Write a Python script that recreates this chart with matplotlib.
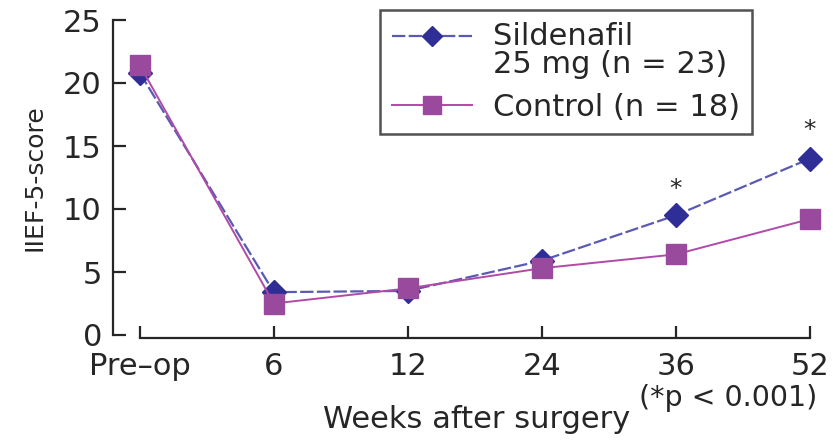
import matplotlib
matplotlib.use("Agg")
import matplotlib.pyplot as plt
import numpy as np

plt.rcParams['font.family'] = ['DejaVu Sans']

categories = ["Pre\u2013op", "6", "12", "24", "36", "52"]
sildenafil = [20.8, 3.4, 3.5, 5.9, 9.5, 14.0]
control = [21.4, 2.5, 3.7, 5.3, 6.4, 9.2]
star_idx = [4, 5]
star_y = [11.6, 16.3]
yticks = [0, 5, 10, 15, 20, 25]

W, H = 833, 441
fig = plt.figure(figsize=(W/100, H/100), dpi=100)
ax = fig.add_axes([113/W, 1-335/H, 717/W, 315/H])

x = np.arange(len(categories))
blue = '#2e2e96'
blue_line = '#5a5ab4'
mag = '#9a4a9c'
mag_line = '#b04aa8'
txt = '#262626'

l1, = ax.plot(x, sildenafil, color=blue_line, lw=1.6, ls=(0, (6, 1.5)),
              marker='D', ms=12, mfc=blue, mec=blue, clip_on=False, zorder=3)
l2, = ax.plot(x, control, color=mag_line, lw=1.4, ls='-',
              marker='s', ms=15, mfc=mag, mec=mag, clip_on=False, zorder=4)

for i, yv in zip(star_idx, star_y):
    ax.text(x[i], yv, '*', ha='center', va='center', fontsize=18, color=txt)

ax.set_xlim(-0.2, 5.15)
ax.set_ylim(0, 25)
ax.set_xticks(x)
ax.set_xticklabels(categories)
ax.set_yticks(yticks)
for s in ['top', 'right']:
    ax.spines[s].set_visible(False)
ax.spines['left'].set_bounds(0, 25)
ax.spines['bottom'].set_bounds(0, 5)
ax.spines['bottom'].set_position(('outward', 2))
for s in ['left', 'bottom']:
    ax.spines[s].set_linewidth(1.6)
    ax.spines[s].set_color(txt)
ax.tick_params(direction='in', length=9, width=1.6, color=txt,
               labelsize=22, labelcolor=txt)
ax.tick_params(axis='y', pad=8)
ax.tick_params(axis='x', pad=10)

ax.set_ylabel('IIEF-5-score', fontsize=18, color=txt, labelpad=12,
              family=['Liberation Sans Narrow', 'DejaVu Sans'])

fig.text(477/W, 1-420/H, 'Weeks after surgery', ha='center', va='center',
         fontsize=22, color=txt)
fig.text(728/W, 1-398/H, '(*p < 0.001)', ha='center', va='center',
         fontsize=20.5, color=txt)

leg = ax.legend([l1, l2], ['Sildenafil\n25 mg (n = 23)', 'Control (n = 18)'],
                loc='upper left', bbox_to_anchor=(380/W, 1-10/H),
                bbox_transform=fig.transFigure, fontsize=22, frameon=True,
                fancybox=False, edgecolor=txt, handlelength=2.6,
                labelspacing=0.45, borderpad=0.4, handletextpad=0.7,
                borderaxespad=0, markerscale=0.85)
leg.get_frame().set_linewidth(1.8)
for t in leg.get_texts():
    t.set_color(txt)
    t.set_linespacing(0.95)
h0 = leg.legend_handles[0]
yd = np.asarray(h0.get_ydata(), dtype=float)
h0.set_ydata(yd + 11)

fig.savefig('out.png', dpi=100)
